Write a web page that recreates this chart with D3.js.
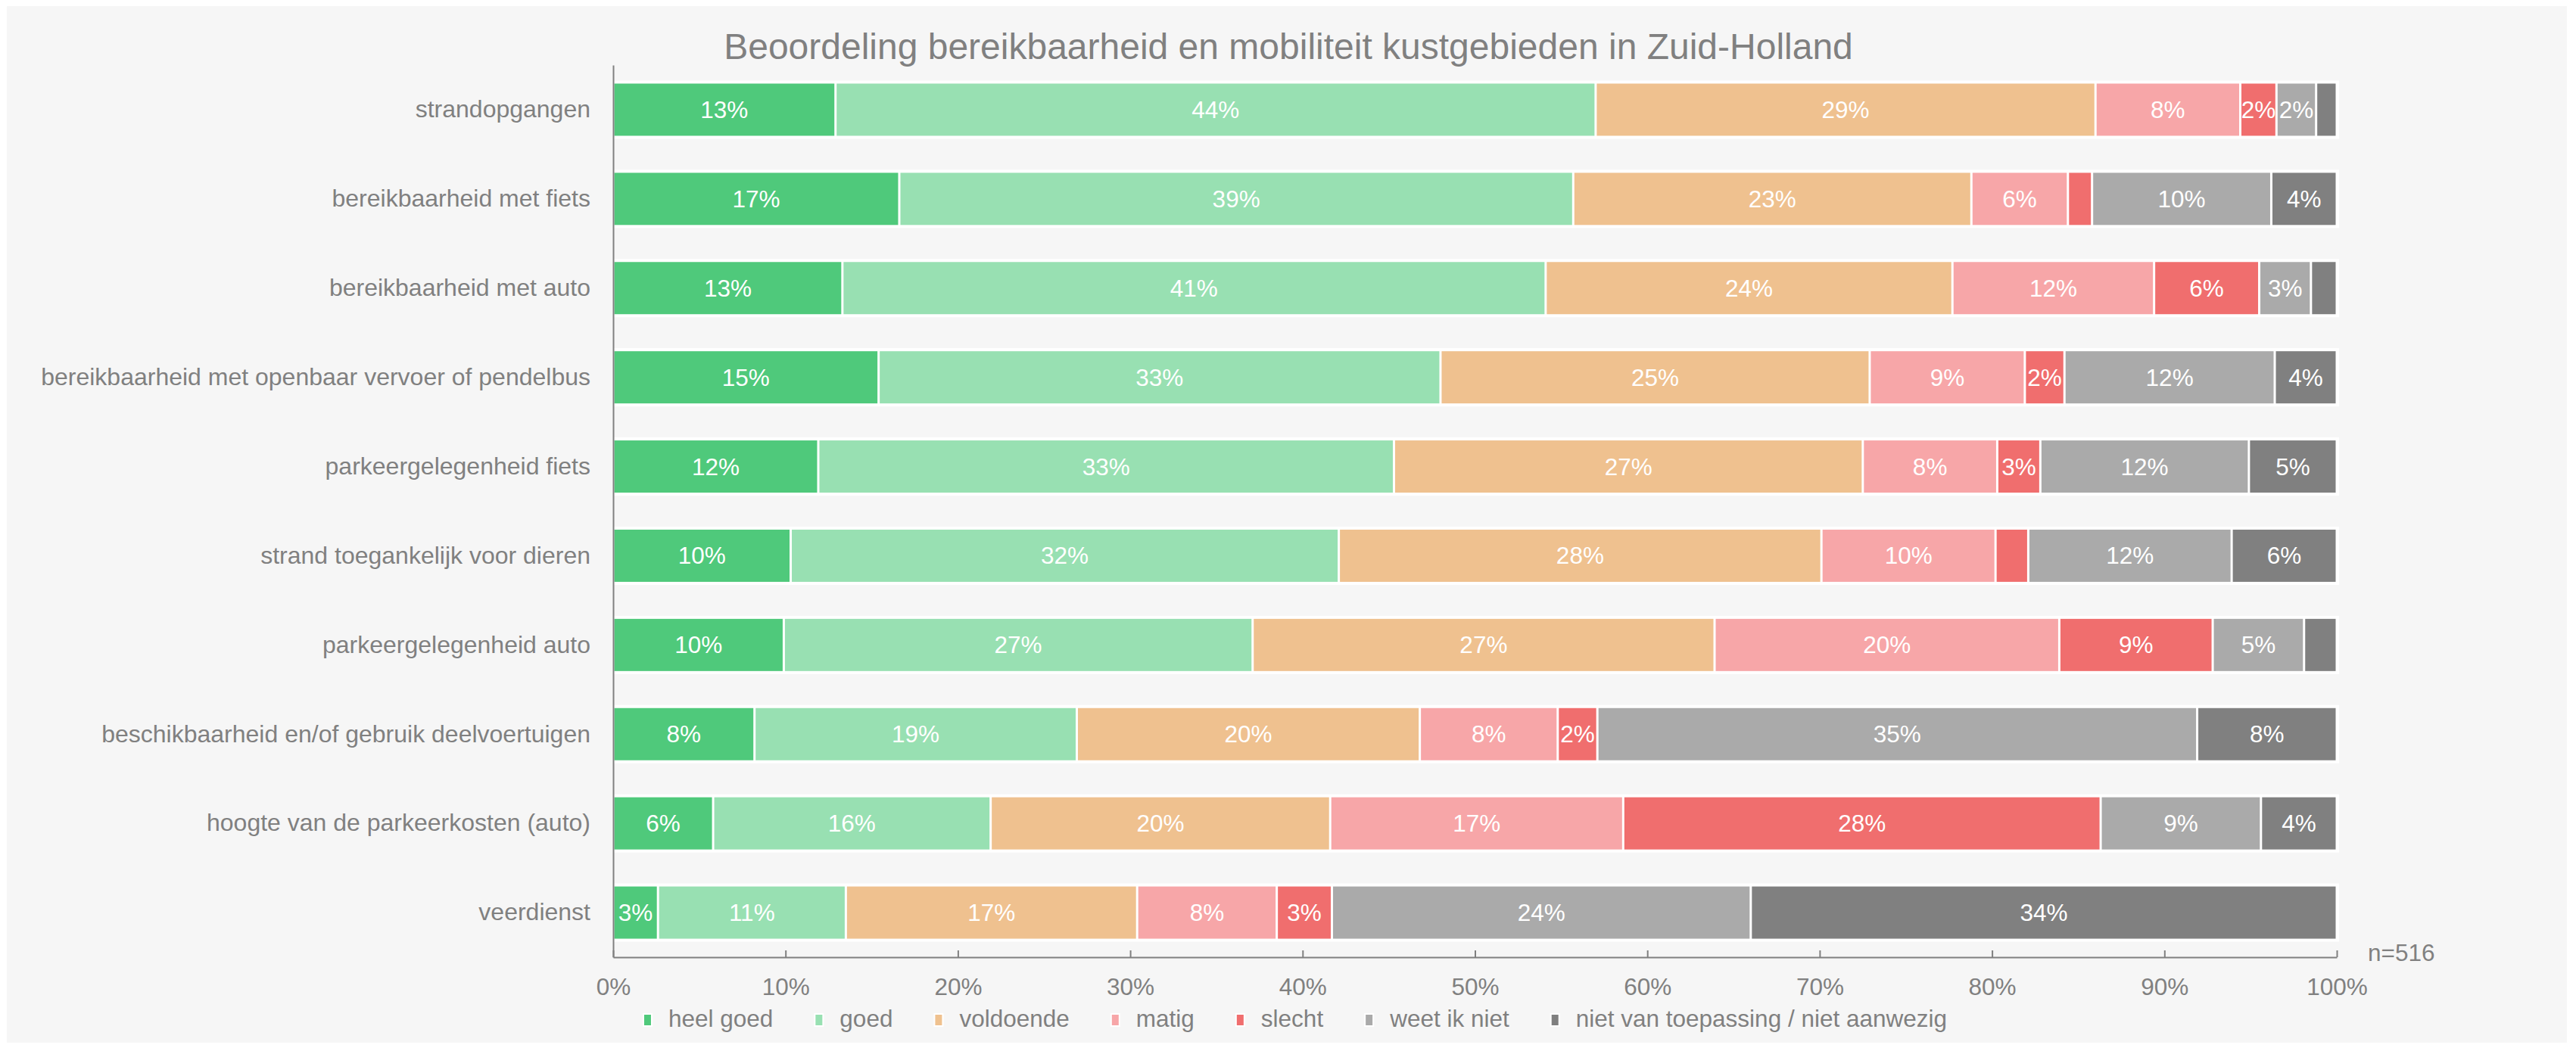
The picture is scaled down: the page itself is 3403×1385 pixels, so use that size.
<!DOCTYPE html>
<html>
<head>
<meta charset="utf-8">
<script src="https://cdn.jsdelivr.net/npm/d3@7"></script>
<style>
  body { margin: 0; background: #fff; }
  svg { display: block; font-family: "Liberation Sans", Arial, sans-serif; }
</style>
</head>
<body>
<div class="container"></div>
<script>
const w = 3403
const h = 1385

const title = "Beoordeling bereikbaarheid en mobiliteit kustgebieden in Zuid-Holland"

const categories = [
  "strandopgangen",
  "bereikbaarheid met fiets",
  "bereikbaarheid met auto",
  "bereikbaarheid met openbaar vervoer of pendelbus",
  "parkeergelegenheid fiets",
  "strand toegankelijk voor dieren",
  "parkeergelegenheid auto",
  "beschikbaarheid en/of gebruik deelvoertuigen",
  "hoogte van de parkeerkosten (auto)",
  "veerdienst"
]

const keys = ["heel goed", "goed", "voldoende", "matig", "slecht", "weet ik niet", "niet van toepassing / niet aanwezig"]
const colors = ["#4fc97b", "#98e0b2", "#efc18f", "#f7a6a8", "#f06e6e", "#aaaaaa", "#808080"]

// percentages per category, one array per answer
const heelGoed  = [12.9, 16.6, 13.3, 15.4, 11.9, 10.3,  9.9,  8.2,  5.8,  2.6]
const goed      = [44.1, 39.1, 40.8, 32.6, 33.4, 31.8, 27.2, 18.7, 16.1, 10.9]
const voldoende = [29.0, 23.1, 23.6, 24.9, 27.2, 28.0, 26.8, 19.9, 19.7, 16.9]
const matig     = [ 8.4,  5.6, 11.7,  9.0,  7.8, 10.1, 20.0,  8.0, 17.0,  8.1]
const slecht    = [ 2.1,  1.4,  6.1,  2.3,  2.5,  1.9,  8.9,  2.3, 27.7,  3.2]
const weetIkNiet = [ 2.3, 10.4,  3.0, 12.2, 12.1, 11.8,  5.3, 34.8,  9.3, 24.3]
const nietVanToepassing = [1.2, 3.8, 1.5, 3.6, 5.1, 6.1, 1.9, 8.1, 4.4, 34.0]

const xTicks = [0, 10, 20, 30, 40, 50, 60, 70, 80, 90, 100]
const nLabel = "n=516"

const series = [heelGoed, goed, voldoende, matig, slecht, weetIkNiet, nietVanToepassing]
const table = categories.map((c, i) => {
  const row = { cat: c }
  keys.forEach((k, j) => row[k] = series[j][i])
  return row
})

const grey = "#808080"
const fs = 31.5

const svg = d3.select(".container")
              .append("svg")
              .attr("width", w)
              .attr("height", h)

svg.append("rect")
   .attr("x", 9).attr("y", 8)
   .attr("width", 3382).attr("height", 1370)
   .attr("fill", "#f6f6f6")

const xScale = d3.scaleLinear()
                 .domain([0, 100])
                 .range([810, 3087])

const yScale = d3.scaleBand()
                 .domain(categories)
                 .range([86, 1265])
                 .paddingInner(0.415)
                 .paddingOuter(0.2075)

const stacked = d3.stack().keys(keys)(table)

// white band behind every bar
svg.append("g")
   .selectAll("rect")
   .data(categories)
   .enter()
   .append("rect")
     .attr("x", xScale(0))
     .attr("y", d => yScale(d) - 4)
     .attr("width", xScale(100) - xScale(0) + 3)
     .attr("height", yScale.bandwidth() + 8)
     .attr("fill", "#fff")

const layers = svg.append("g")
   .selectAll("g")
   .data(stacked)
   .enter()
   .append("g")
     .attr("fill", (d, i) => colors[i])

layers.selectAll("rect")
   .data(d => d)
   .enter()
   .append("rect")
     .attr("x", d => xScale(d[0]) + 1.5)
     .attr("y", d => yScale(d.data.cat))
     .attr("width", d => Math.max(0, xScale(d[1]) - xScale(d[0]) - 3))
     .attr("height", yScale.bandwidth())

layers.selectAll("text")
   .data(d => d.filter(s => s[1] - s[0] >= 2))
   .enter()
   .append("text")
     .attr("x", d => (xScale(d[0]) + xScale(d[1])) / 2)
     .attr("y", d => yScale(d.data.cat) + yScale.bandwidth() / 2)
     .attr("text-anchor", "middle")
     .attr("dominant-baseline", "central")
     .attr("fill", "#fff")
     .style("font-size", fs + "px")
     .text(d => Math.round(d[1] - d[0]) + "%")

const yAxis = d3.axisLeft(yScale).tickSize(0).tickPadding(30)
const yg = svg.append("g")
   .attr("transform", `translate(${xScale(0)}, 0)`)
   .call(yAxis)
yg.select(".domain").attr("stroke", grey).attr("stroke-width", 2)
yg.selectAll("text").attr("fill", grey).style("font-size", "32px").attr("font-family", null)

const xAxis = d3.axisBottom(xScale)
                .tickValues(xTicks)
                .tickFormat(d => d + "%")
                .tickSizeInner(-9)
                .tickSizeOuter(0)
                .tickPadding(28)
const xg = svg.append("g")
   .attr("transform", `translate(0, 1265)`)
   .call(xAxis)
xg.select(".domain").attr("stroke", grey).attr("stroke-width", 2)
xg.selectAll("line").attr("stroke", grey).attr("stroke-width", 2)
xg.selectAll("text").attr("fill", grey).style("font-size", fs + "px").attr("font-family", null)

svg.append("text")
   .attr("x", 3128).attr("y", 1270)
   .attr("fill", grey)
   .style("font-size", fs + "px")
   .text(nLabel)

svg.append("text")
   .attr("x", 1702).attr("y", 78)
   .attr("text-anchor", "middle")
   .attr("fill", grey)
   .style("font-size", "48px")
   .text(title)

// legend
const legend = svg.append("g").attr("id", "legend")
const items = legend.selectAll("g")
   .data(keys)
   .enter()
   .append("g")

items.append("rect")
   .attr("width", 11).attr("height", 16)
   .attr("y", 1340)
   .attr("fill", (d, i) => colors[i])
   .attr("stroke", "#fff")
   .attr("stroke-width", 2)

items.append("text")
   .attr("y", 1357)
   .attr("fill", grey)
   .style("font-size", fs + "px")
   .text(d => d)

let cx = 0
items.each(function() {
  const g = d3.select(this)
  const tw = g.select("text").node().getComputedTextLength()
  g.select("rect").attr("x", cx)
  g.select("text").attr("x", cx + 33)
  cx += 33 + tw + 55
})
const legendWidth = cx - 55
legend.attr("transform", `translate(${1711 - legendWidth / 2}, 0)`)
</script>
</body>
</html>
